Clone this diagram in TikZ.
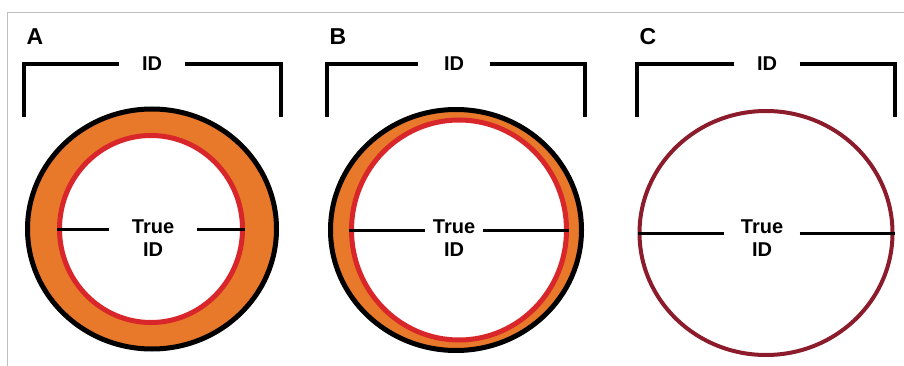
\documentclass[tikz,border=0pt]{standalone}
\usepackage{fontspec}
\setmainfont{Liberation Sans}
\usetikzlibrary{shapes.geometric}
\definecolor{pipeorange}{HTML}{E8782A}
\definecolor{wallred}{HTML}{D8262A}
\definecolor{darkwall}{HTML}{8C1C2C}

\begin{document}
\begin{tikzpicture}[
    x=1pt, y=-1pt,
    ring/.style={
        draw=black,
        fill=pipeorange,
        ellipse,
        line width=5pt,
        inner sep=0pt
    },
    bore/.style={
        draw=wallred,
        fill=white,
        ellipse,
        line width=5pt,
        inner sep=0pt
    },
    barewall/.style={
        draw=darkwall,
        ellipse,
        line width=4pt,
        inner sep=0pt
    },
    txt/.style={
        font=\bfseries\fontsize{20}{23}\selectfont,
        inner sep=0pt,
        align=center
    },
    panel/.style={font=\bfseries\fontsize{23}{25}\selectfont, inner sep=0pt},
    bracket/.style={line width=3.5pt},
    dia/.style={line width=3pt}
]
\useasboundingbox (0,0) rectangle (904,366);
\draw[gray!50] (904,12) -- (7,12) -- (7,366);

% A
\node[panel] (labA) at (35,37) {A};
\node[txt, minimum width=65pt, minimum height=20pt] (idA) at (152,64) {ID};
\coordinate (lA) at (24,117);
\coordinate (rA) at (281,117);
\draw[bracket] (lA) |- (idA.west);
\draw[bracket] (idA.east) -| (rA);

\node[ring, minimum width=249pt, minimum height=240pt] (outA) at (152,229) {};
\node[bore, minimum width=183pt, minimum height=187pt] (inA) at (151,229) {};
\node[txt, minimum width=87pt] (tA) at (153,238) {True\\ID};
\draw[dia] (inA.west) -- (inA.west -| tA.west);
\draw[dia] (tA.east |- inA.east) -- (inA.east);

% B
\node[panel] (labB) at (338,37) {B};
\node[txt, minimum width=72pt, minimum height=20pt] (idB) at (454,64) {ID};
\coordinate (lB) at (327,117);
\coordinate (rB) at (585,117);
\draw[bracket] (lB) |- (idB.west);
\draw[bracket] (idB.east) -| (rB);

\node[ring, minimum width=251pt, minimum height=241pt] (outB) at (456,230) {};
\node[bore, minimum width=215pt, minimum height=220pt] (inB) at (459,230) {};
\node[txt, minimum width=58pt] (tB) at (454,238) {True\\ID};
\draw[dia] (inB.west) -- (inB.west -| tB.west);
\draw[dia] (tB.east |- inB.east) -- (inB.east);

% C
\node[panel] (labC) at (648,37) {C};
\node[txt, minimum width=65pt, minimum height=20pt] (idC) at (767,64) {ID};
\coordinate (lC) at (637,117);
\coordinate (rC) at (895,117);
\draw[bracket] (lC) |- (idC.west);
\draw[bracket] (idC.east) -| (rC);

\node[barewall, minimum width=253pt, minimum height=244pt] (pipeC) at (766,233) {};
\node[txt, minimum width=75pt] (tC) at (762,238) {True\\ID};
\draw[dia] (pipeC.west) -- (pipeC.west -| tC.west);
\draw[dia] (tC.east |- pipeC.east) -- (pipeC.east);

\end{tikzpicture}
\end{document}
